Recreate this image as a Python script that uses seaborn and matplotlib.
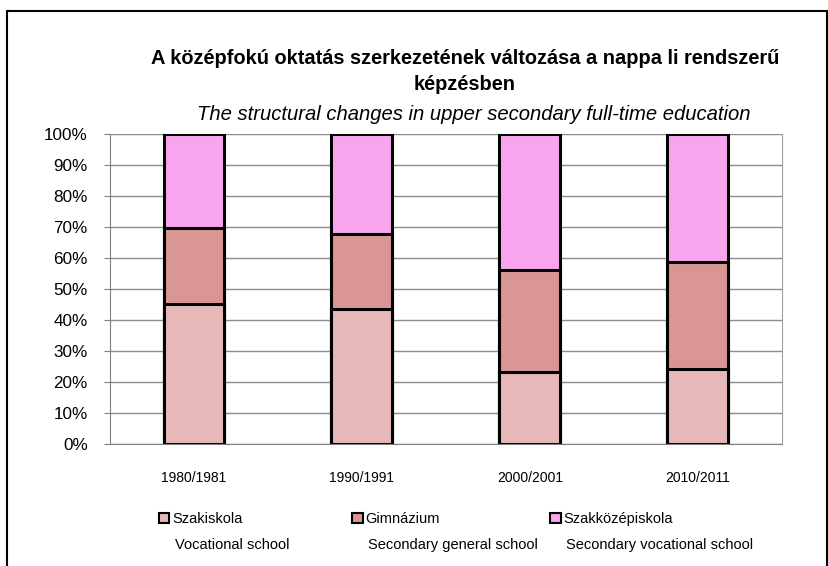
import numpy as np
import pandas as pd
import seaborn as sns
import matplotlib.pyplot as plt
from matplotlib.patches import Rectangle, Patch

years = ['1980/1981', '1990/1991', '2000/2001', '2010/2011']
szakiskola = [45.0, 43.5, 23.0, 24.0]
gimnazium = [24.5, 24.0, 33.0, 34.5]
szakkozep = [30.5, 32.5, 44.0, 41.5]

labels_hu = ['Szakiskola', 'Gimnázium', 'Szakközépiskola']
labels_en = ['Vocational school', 'Secondary general school', 'Secondary vocational school']
colors = ['#E6B9B8', '#D99694', '#F9A5EE']

sns.set_style('white')
plt.rcParams['font.family'] = ['Liberation Sans', 'DejaVu Sans']
plt.rcParams['text.color'] = 'black'

df = pd.DataFrame({'year': years, 'szak': szakiskola, 'gim': gimnazium, 'szkp': szakkozep})
df['c1'] = df['szak']
df['c2'] = df['szak'] + df['gim']
df['c3'] = df['c2'] + df['szkp']

fig = plt.figure(figsize=(8.29, 5.66), dpi=100)
ax = fig.add_axes([0.1327, 0.2164, 0.8105, 0.5476])

# stacked bars: draw cumulative totals from tallest to shortest
for col, c in zip(['c3', 'c2', 'c1'], colors[::-1]):
    sns.barplot(data=df, x='year', y=col, color=c, width=0.363,
                edgecolor='black', linewidth=2.2, saturation=1, ax=ax)

ax.set_ylim(0, 100)
ax.set_xlim(-0.5, 3.5)
ax.set_yticks(np.arange(0, 101, 10))
ax.set_yticklabels([f'{v}%' for v in range(0, 101, 10)], fontsize=12.3)
ax.set_xticks(range(4))
ax.set_xticklabels(years, fontsize=10)
ax.set_xticks(np.arange(-0.5, 4, 1), minor=True)
ax.tick_params(axis='x', which='major', length=0, pad=20, labelcolor='black')
ax.tick_params(axis='x', which='minor', length=4, color='#808080', direction='out')
ax.tick_params(axis='y', length=4, color='#808080', direction='out', left=True, pad=12,
               labelcolor='black')
ax.set_xlabel('')
ax.set_ylabel('')
ax.yaxis.grid(True, color='#8c8c8c', linewidth=1)
ax.set_axisbelow(True)
for s in ['left', 'bottom']:
    ax.spines[s].set_color('#808080')
ax.spines['top'].set_visible(False)
ax.spines['right'].set_color('#a0a0a0')

fig.text(0.561, 0.897, 'A középfokú oktatás szerkezetének változása a nappa li rendszerű',
         ha='center', va='center', fontsize=14.4, fontweight='bold')
fig.text(0.561, 0.850, 'képzésben', ha='center', va='center', fontsize=14.4, fontweight='bold')
fig.text(0.572, 0.797, 'The structural changes in upper secondary full-time education',
         ha='center', va='center', fontsize=14.6, style='italic')

# legend: one entry per column, english subtitle underneath
leg_x = [0.192, 0.425, 0.664]
for i in range(3):
    h = Patch(facecolor=colors[i], edgecolor='black', linewidth=1.5)
    lg = fig.legend([h], [labels_hu[i]], loc='center left', bbox_to_anchor=(leg_x[i], 0.083),
                    frameon=False, fontsize=10.5, handlelength=0.7, handleheight=0.7,
                    handletextpad=0.2, borderaxespad=0, borderpad=0)
    fig.text(leg_x[i] + 0.019, 0.037, labels_en[i], ha='left', va='center', fontsize=10.5)

fig.patches.append(Rectangle((0.009, -0.01), 0.988, 0.99, transform=fig.transFigure,
                             fill=False, edgecolor='black', linewidth=1.5))

fig.savefig('out.png', dpi=100)
